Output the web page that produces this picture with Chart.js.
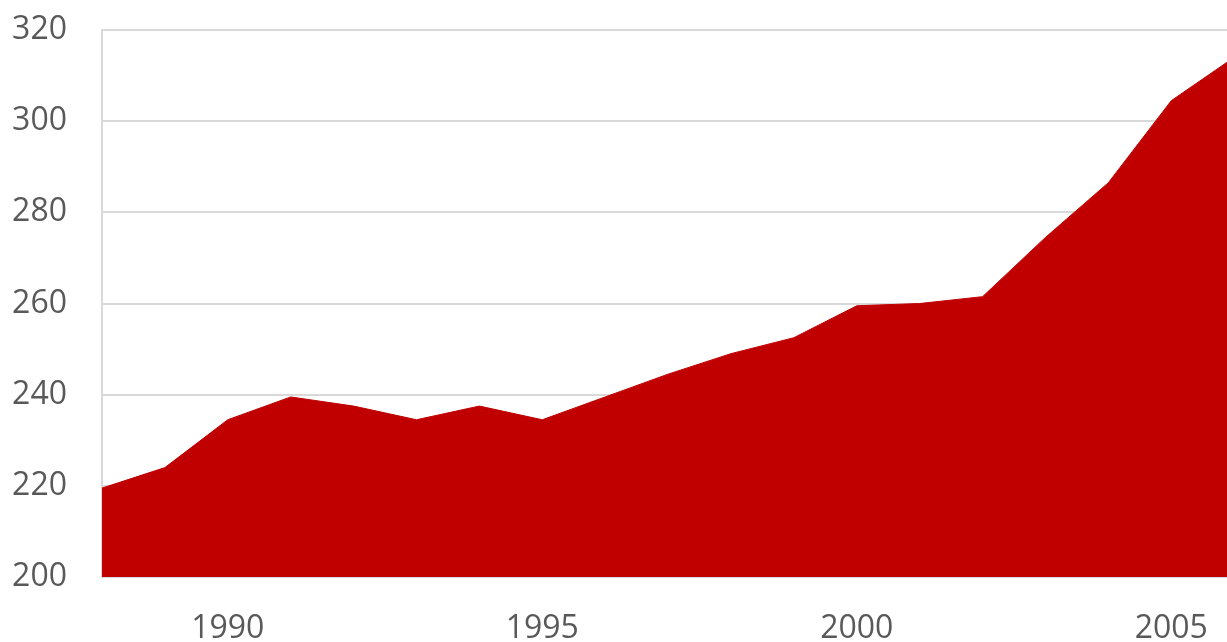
<!DOCTYPE html>
<html>
<head>
<meta charset="utf-8">
<script src="https://cdn.jsdelivr.net/npm/chart.js@4/dist/chart.umd.min.js"></script>
<style>
  html, body { margin: 0; padding: 0; background: #fff; }
  #wrap { width: 1227px; height: 642px; }
</style>
</head>
<body>
<div id="wrap"><canvas id="c" width="1227" height="642"></canvas></div>
<script>
// values (last year runs past the right edge)
var years = [1988, 1989, 1990, 1991, 1992, 1993, 1994, 1995, 1996, 1997,
             1998, 1999, 2000, 2001, 2002, 2003, 2004, 2005, 2006];
var values = [219.5, 224, 234.5, 239.5, 237.5, 234.5, 237.5, 234.5, 239.5, 244.5,
              249, 252.5, 259.5, 260, 261.5, 274.5, 286.5, 304.5, 314];
var xTicks = [1990, 1995, 2000, 2005];
var yTicks = [200, 220, 240, 260, 280, 300, 320];

var points = years.map(function (y, i) { return { x: y, y: values[i] }; });

var labelFont = { family: "'Open Sans', 'Noto Sans', sans-serif", size: 32, lineHeight: 1 };
var labelColor = '#595959';

new Chart(document.getElementById('c').getContext('2d'), {
  type: 'line',
  data: {
    datasets: [{
      data: points,
      fill: 'start',
      backgroundColor: '#c00000',
      borderColor: '#c00000',
      borderWidth: 1,
      pointRadius: 0,
      tension: 0,
      clip: 0
    }]
  },
  options: {
    responsive: false,
    animation: false,
    layout: { padding: { left: 10, right: 0, top: 30, bottom: 0 } },
    plugins: { legend: { display: false }, tooltip: { enabled: false } },
    scales: {
      x: {
        type: 'linear',
        min: 1988,
        max: 2005.886,
        grid: { display: false, drawTicks: false },
        border: { display: false },
        afterBuildTicks: function (s) { s.ticks = xTicks.map(function (v) { return { value: v }; }); },
        afterFit: function (s) {
          s.height = 65;
          s.paddingLeft = 0; s.paddingRight = 0;
        },
        ticks: {
          padding: 36,
          maxRotation: 0,
          color: labelColor,
          font: labelFont,
          callback: function (v) { return String(v); }
        }
      },
      y: {
        min: 200,
        max: 320,
        afterBuildTicks: function (s) { s.ticks = yTicks.map(function (v) { return { value: v }; }); },
        afterFit: function (s) {
          s.width = 92;
          s.paddingTop = 0; s.paddingBottom = 0;
        },
        grid: { color: '#d9d9d9', lineWidth: 2, drawTicks: false },
        border: { display: true, color: '#d9d9d9', width: 2 },
        ticks: {
          padding: 35,
          color: labelColor,
          font: labelFont
        }
      }
    }
  }
});
</script>
</body>
</html>
